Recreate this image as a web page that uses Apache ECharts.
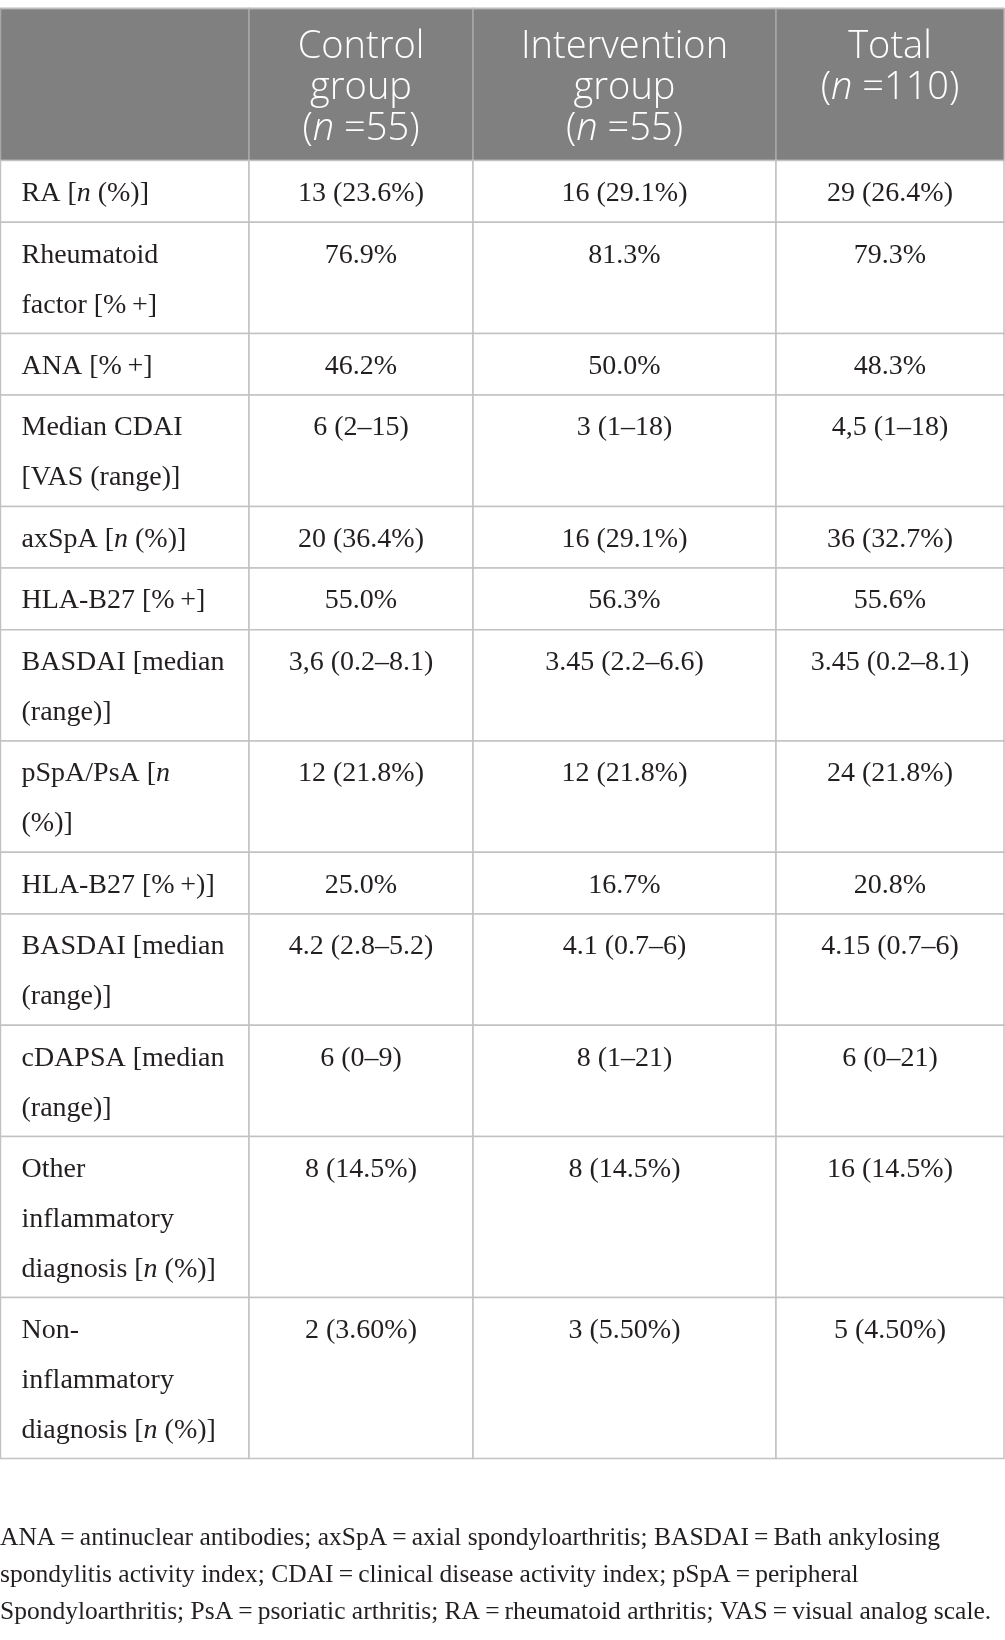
<!DOCTYPE html>
<html lang="en">
<head>
    <meta charset="UTF-8">
    <script src="https://cdn.jsdelivr.net/npm/echarts@6/dist/echarts.min.js"></script>
    <style>
        html, body { margin: 0; padding: 0; background: #fff; }
        #table { width: 1005px; height: 1640px; }
    </style>
</head>
<body>
<div id="table"></div>
<script>
    // table content
    var headers = ['', 'Control\ngroup\n({i|n} =55)', 'Intervention\ngroup\n({i|n} =55)', 'Total\n({i|n} =110)'];
    var rowLabels = [
        'RA [{i|n} (%)]',
        'Rheumatoid\nfactor [%\u2009+]',
        'ANA [%\u2009+]',
        'Median CDAI\n[VAS (range)]',
        'axSpA [{i|n} (%)]',
        'HLA-B27 [%\u2009+]',
        'BASDAI [median\n(range)]',
        'pSpA/PsA [{i|n}\n(%)]',
        'HLA-B27 [%\u2009+)]',
        'BASDAI [median\n(range)]',
        'cDAPSA [median\n(range)]',
        'Other\ninflammatory\ndiagnosis [{i|n} (%)]',
        'Non-\ninflammatory\ndiagnosis [{i|n} (%)]'
    ];
    var controlGroup = ['13 (23.6%)', '76.9%', '46.2%', '6 (2\u201315)', '20 (36.4%)', '55.0%',
        '3,6 (0.2\u20138.1)', '12 (21.8%)', '25.0%', '4.2 (2.8\u20135.2)', '6 (0\u20139)', '8 (14.5%)', '2 (3.60%)'];
    var interventionGroup = ['16 (29.1%)', '81.3%', '50.0%', '3 (1\u201318)', '16 (29.1%)', '56.3%',
        '3.45 (2.2\u20136.6)', '12 (21.8%)', '16.7%', '4.1 (0.7\u20136)', '8 (1\u201321)', '8 (14.5%)', '3 (5.50%)'];
    var totalGroup = ['29 (26.4%)', '79.3%', '48.3%', '4,5 (1\u201318)', '36 (32.7%)', '55.6%',
        '3.45 (0.2\u20138.1)', '24 (21.8%)', '20.8%', '4.15 (0.7\u20136)', '6 (0\u201321)', '16 (14.5%)', '5 (4.50%)'];
    var footnote = [
        'ANA\u2009=\u2009antinuclear antibodies; axSpA\u2009=\u2009axial spondyloarthritis; BASDAI\u2009=\u2009Bath ankylosing',
        'spondylitis activity index; CDAI\u2009=\u2009clinical disease activity index; pSpA\u2009=\u2009peripheral',
        'Spondyloarthritis; PsA\u2009=\u2009psoriatic arthritis; RA\u2009=\u2009rheumatoid arthritis; VAS\u2009=\u2009visual analog scale.'
    ];

    // layout
    var colEdges = [0.5, 249, 473, 776, 1004];
    var tableTop = 8.5;
    var headerHeight = 152;
    var lineStep = 49.65;
    var rowPad = 12;
    var serif = "'Liberation Serif', 'Times New Roman', serif";
    var sans = "'Open Sans', Arial, sans-serif";
    var textColor = '#231f20';

    var rowSpans = [];
    var y = tableTop + headerHeight;
    for (var i = 0; i < rowLabels.length; i++) {
        var h = rowPad + rowLabels[i].split('\n').length * lineStep;
        rowSpans.push([y, y + h]);
        y += h;
    }

    var columnsData = [rowLabels, controlGroup, interventionGroup, totalGroup];

    var chart = echarts.init(document.getElementById('table'));

    function cellRect(api, c, t, b) {
        var p0 = api.coord([colEdges[c], t]);
        var p1 = api.coord([colEdges[c + 1], b]);
        return {x: p0[0], y: p0[1], width: p1[0] - p0[0], height: p1[1] - p0[1]};
    }

    chart.setOption({
        animation: false,
        title: {
            text: footnote.join('\n'),
            left: 0,
            top: 1520,
            padding: 0,
            textStyle: {
                fontFamily: serif,
                fontSize: 25.5,
                fontWeight: 'normal',
                lineHeight: 37,
                color: textColor
            }
        },
        grid: {left: 0, right: 0, top: 0, bottom: 0},
        xAxis: {type: 'value', min: 0, max: 1005, show: false},
        yAxis: {type: 'value', min: 0, max: 1640, inverse: true, show: false},
        series: [
            {
                // header row
                type: 'custom',
                coordinateSystem: 'cartesian2d',
                data: [[0]],
                renderItem: function (params, api) {
                    var children = [];
                    for (var c = 0; c < headers.length; c++) {
                        var r = cellRect(api, c, tableTop, tableTop + headerHeight);
                        children.push({
                            type: 'rect',
                            shape: r,
                            style: {fill: '#808080', stroke: '#a8a8a8', lineWidth: 1.5}
                        });
                        children.push({
                            type: 'text',
                            style: {
                                text: headers[c],
                                x: r.x + r.width / 2,
                                y: r.y + 18,
                                align: 'center',
                                verticalAlign: 'top',
                                fontFamily: sans,
                                fontWeight: 350,
                                fontSize: 38,
                                lineHeight: 41,
                                fill: '#fff',
                                rich: {
                                    i: {fontStyle: 'italic', fontWeight: 350, fontFamily: sans, fontSize: 38, lineHeight: 41, fill: '#fff'}
                                }
                            }
                        });
                    }
                    // top border line
                    var a = api.coord([colEdges[0], tableTop]);
                    var b = api.coord([colEdges[4], tableTop]);
                    children.push({
                        type: 'line',
                        shape: {x1: a[0], y1: a[1], x2: b[0], y2: b[1]},
                        style: {stroke: '#bdbdbd', lineWidth: 1.5}
                    });
                    return {type: 'group', children: children};
                }
            },
            {
                // body rows
                type: 'custom',
                coordinateSystem: 'cartesian2d',
                data: rowLabels.map(function (d, i) { return [i]; }),
                renderItem: function (params, api) {
                    var i = api.value(0);
                    var span = rowSpans[i];
                    var children = [];
                    for (var c = 0; c < columnsData.length; c++) {
                        var r = cellRect(api, c, span[0], span[1]);
                        children.push({
                            type: 'rect',
                            shape: r,
                            style: {fill: '#fff', stroke: '#c2c2c2', lineWidth: 1.5}
                        });
                        children.push({
                            type: 'text',
                            style: {
                                text: columnsData[c][i],
                                x: c === 0 ? r.x + 21 : r.x + r.width / 2,
                                y: r.y + 8,
                                align: c === 0 ? 'left' : 'center',
                                verticalAlign: 'top',
                                fontFamily: serif,
                                fontSize: 28,
                                lineHeight: 50,
                                fill: textColor,
                                rich: {
                                    i: {fontStyle: 'italic', fontFamily: serif, fontSize: 28, lineHeight: 50, fill: textColor}
                                }
                            }
                        });
                    }
                    return {type: 'group', children: children};
                }
            }
        ]
    });
</script>
</body>
</html>
